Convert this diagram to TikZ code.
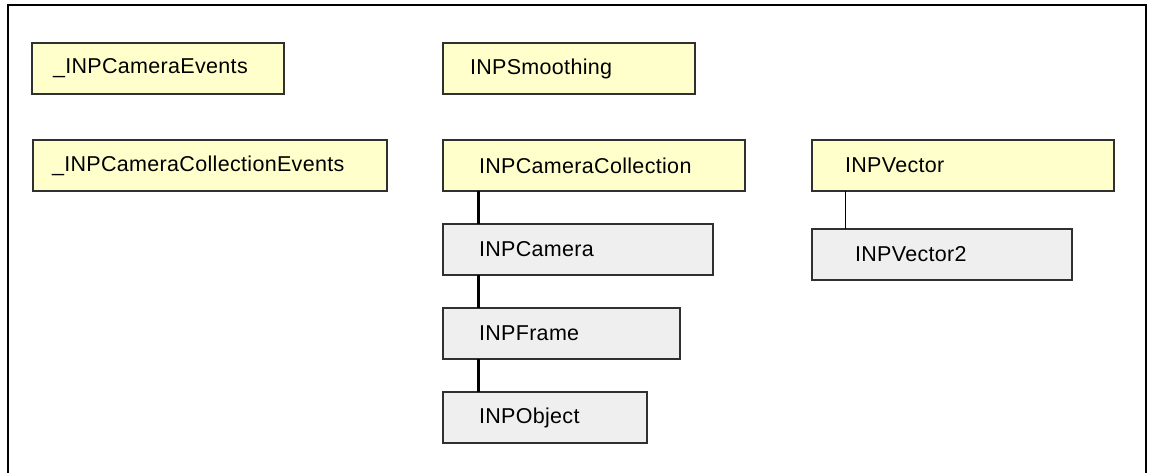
\documentclass[tikz,border=0pt]{standalone}
\usepackage{fontspec}
\setmainfont[LetterSpace=1.5]{Liberation Sans}
\usetikzlibrary{calc}
\definecolor{clsyellow}{HTML}{FFFFCC}
\definecolor{clsgray}{HTML}{EFEFEF}
\definecolor{clsline}{HTML}{303030}
\tikzset{
  cls/.style={draw=clsline, line width=1.3pt, rectangle, anchor=north west,
    minimum height=51pt, align=left, outer sep=0pt, inner ysep=0pt,
    font=\fontsize{21.5}{25}\selectfont},
  yel/.style={cls, fill=clsyellow},
  gry/.style={cls, fill=clsgray},
  heavy/.style={draw=black, line width=3pt},
  light/.style={draw=black, line width=1pt},
}
\begin{document}
\begin{tikzpicture}[x=1pt,y=-1pt]
\useasboundingbox (0,0) rectangle (1149,473);
\draw[line width=1.5pt] (8,475) -- (8,5) -- (1146,5) -- (1146,475);
\node[yel, inner xsep=21pt, text width=210pt] (ev) at (32,43) {\_INPCameraEvents};
\node[yel, inner xsep=19pt, text width=316pt] (cev) at (33,140) {\_INPCameraCollectionEvents};
\node[yel, inner xsep=27pt, text width=198pt] (sm) at (443,43) {INPSmoothing};
\node[yel, inner xsep=36pt, text width=230pt] (cc) at (443,140) {INPCameraCollection};
\node[gry, inner xsep=36pt, text width=198pt] (cam) at (443,224) {INPCamera};
\node[gry, inner xsep=36pt, text width=165pt] (fr) at (443,308) {INPFrame};
\node[gry, inner xsep=36pt, text width=132pt] (ob) at (443,392) {INPObject};
\node[yel, inner xsep=33pt, text width=236pt] (vec) at (812,140) {INPVector};
\node[gry, inner xsep=43pt, text width=174pt] (v2) at (812,229) {INPVector2};
\draw[heavy] ($(cc.south west)+(35,0)$) -- ($(cam.north west)+(35,0)$);
\draw[heavy] ($(cam.south west)+(35,0)$) -- ($(fr.north west)+(35,0)$);
\draw[heavy] ($(fr.south west)+(35,0)$) -- ($(ob.north west)+(35,0)$);
\draw[light] ($(vec.south west)+(33,0)$) -- ($(v2.north west)+(33,0)$);
\end{tikzpicture}
\end{document}
